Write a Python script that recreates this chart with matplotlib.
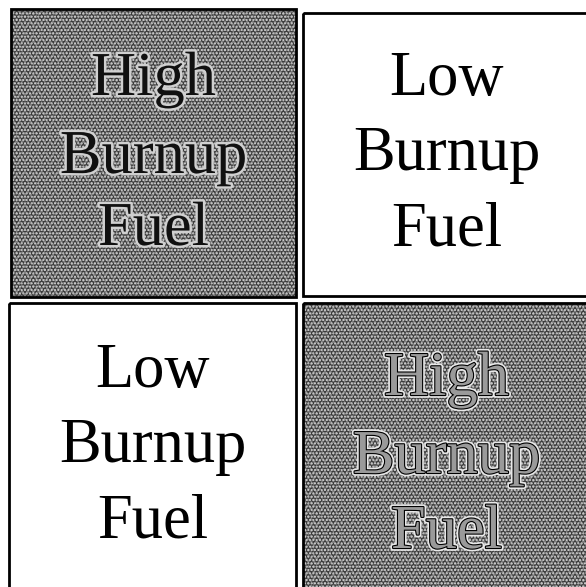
import matplotlib.pyplot as plt
import matplotlib.patches as mpatches
import matplotlib.patheffects as pe

# cell layout in pixel coords (x0, y0, x1, y1), top-left origin
cells = [(11, 9, 296, 297), (303, 13, 590, 296),
         (9, 303, 296, 590), (303, 303, 590, 590)]
labels = ['High\nBurnup\nFuel', 'Low\nBurnup\nFuel',
          'Low\nBurnup\nFuel', 'High\nBurnup\nFuel']
shaded = [True, False, False, True]
# line centres (y) of the three text lines in each cell
line_y = [(80, 158, 230), (80, 155, 230), (372, 447, 523), (380, 458, 533)]

fig = plt.figure(figsize=(5.86, 5.87), dpi=100)
ax = fig.add_axes([0, 0, 1, 1])
ax.set_xlim(0, 586)
ax.set_ylim(587, 0)
ax.axis('off')

for (x0, y0, x1, y1), lab, sh, ys in zip(cells, labels, shaded, line_y):
    w, h = x1 - x0, y1 - y0
    if sh:
        ax.add_patch(mpatches.Rectangle((x0, y0), w, h, facecolor='#7c7c7c', edgecolor='none'))
        ax.add_patch(mpatches.Rectangle((x0, y0), w, h, fill=False, edgecolor='#3c3c3c',
                                        lw=0, hatch='xxxxxx'))
        ax.add_patch(mpatches.Rectangle((x0, y0), w, h, fill=False, edgecolor='#d8d8d8',
                                        lw=0, hatch='.....'))
    ax.add_patch(mpatches.Rectangle((x0, y0), w, h, fill=False, edgecolor='black', lw=2))
    cx = (x0 + x1) / 2
    for word, y in zip(lab.split('\n'), ys):
        if sh:
            if y0 < 100:
                fx = [pe.withStroke(linewidth=3.5, foreground='#d0d0d0')]
                col = '#111111'
            else:
                fx = [pe.withStroke(linewidth=4, foreground='#e8e8e8'),
                      pe.withStroke(linewidth=1.6, foreground='black')]
                col = '#9a9a9a'
        else:
            fx = []
            col = 'black'
        ax.text(cx, y, word, ha='center', va='center', fontsize=45,
                family='Liberation Serif', color=col, path_effects=fx)

fig.savefig('out.png', dpi=100)
